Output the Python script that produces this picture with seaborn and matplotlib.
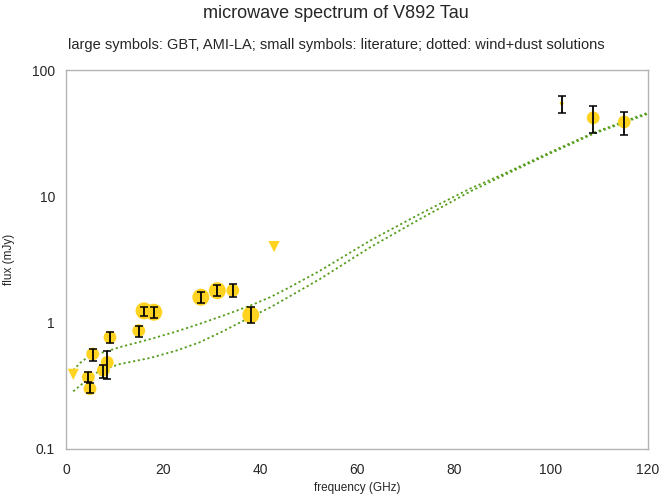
import numpy as np
import pandas as pd
import matplotlib
matplotlib.use("Agg")
import matplotlib.pyplot as plt
import seaborn as sns

# measured points: frequency (GHz), flux (mJy), error bar low/high
freq = [4.6, 4.95, 5.5, 7.7, 8.5, 9.07, 15.0, 16.1, 18.1, 27.8, 31.2, 34.4, 38.1, 102.2, 108.7, 115.1]
flux = [0.37, 0.30, 0.565, 0.42, 0.485, 0.765, 0.865, 1.24, 1.21, 1.59, 1.79, 1.80, 1.15, 54.5, 41.8, 38.8]
flux_lo = [0.337, 0.275, 0.50, 0.367, 0.36, 0.69, 0.775, 1.12, 1.09, 1.42, 1.62, 1.61, 0.995, 46.0, 31.8, 30.8]
flux_hi = [0.404, 0.331, 0.623, 0.465, 0.60, 0.838, 0.947, 1.34, 1.34, 1.74, 1.99, 2.03, 1.32, 62.6, 51.6, 46.2]
symbol = ["medium"] * 7 + ["large"] * 4 + ["medium", "large", "small", "medium", "medium"]

# upper limits
lim_freq = [1.5, 42.9]
lim_flux = [0.39, 4.0]

# wind+dust model curves
model1_freq = [1.5, 2.9, 4.1, 6.9, 11.1, 17.3, 22.7, 27.6, 32.5, 37.9, 42.1, 45.8, 52.4, 62.7, 73.0, 83.3, 89.5, 100.0, 108.7, 120.0]
model1_flux = [0.42, 0.48, 0.52, 0.57, 0.64, 0.74, 0.85, 0.98, 1.14, 1.36, 1.59, 1.88, 2.58, 4.46, 7.26, 11.5, 14.6, 22.5, 31.8, 46.0]
model2_freq = [1.5, 4.1, 6.9, 11.1, 17.3, 22.7, 27.6, 32.5, 37.9, 42.1, 45.8, 52.4, 62.7, 73.0, 83.3, 89.5, 100.0, 108.7, 120.0]
model2_flux = [0.286, 0.347, 0.417, 0.47, 0.525, 0.60, 0.70, 0.86, 1.10, 1.32, 1.59, 2.22, 3.95, 6.62, 10.9, 14.2, 22.0, 31.2, 45.0]

yellow = "#ffd320"
green = "#579d1c"
grey = "#b3b3b3"

sns.set_style("white")
plt.rcParams["font.family"] = ["Liberation Sans", "DejaVu Sans"]

df = pd.DataFrame({"freq": freq, "flux": flux, "lo": flux_lo, "hi": flux_hi, "symbol": symbol})

fig = plt.figure(figsize=(6.72, 4.99), dpi=100)
ax = fig.add_axes([66 / 672, 1 - 449 / 499, (648 - 66) / 672, (449 - 70) / 499])

sns.lineplot(x=model1_freq, y=model1_flux, ax=ax, color=green, linestyle=(0, (1.2, 1.5)), linewidth=1.3)
sns.lineplot(x=model2_freq, y=model2_flux, ax=ax, color=green, linestyle=(0, (1.2, 1.5)), linewidth=1.3)

sns.scatterplot(data=df, x="freq", y="flux", size="symbol",
                sizes={"large": 150, "medium": 85, "small": 8},
                color=yellow, edgecolor="none", legend=False, ax=ax, zorder=3)
sns.scatterplot(x=lim_freq, y=lim_flux, marker="v", s=65, color=yellow,
                edgecolor="none", ax=ax, zorder=3)

yerr = [df["flux"] - df["lo"], df["hi"] - df["flux"]]
ax.errorbar(df["freq"], df["flux"], yerr=yerr, fmt="none", ecolor="black",
            elinewidth=1.3, capsize=3, capthick=1.1, zorder=4)

ax.set_yscale("log")
ax.set_xlim(0, 120)
ax.set_ylim(0.1, 100)
ax.set_xticks(range(0, 121, 20))
ax.set_yticks([0.1, 1, 10, 100])
ax.set_yticklabels(["0.1", "1", "10", "100"])
ax.yaxis.set_minor_locator(matplotlib.ticker.NullLocator())
ax.tick_params(axis="both", which="major", length=5, color=grey, labelsize=10, direction="out")
ax.tick_params(axis="x", pad=5)
ax.tick_params(axis="y", pad=3)
for sp in ax.spines.values():
    sp.set_color(grey)
    sp.set_linewidth(1.0)

ax.set_xlabel("frequency (GHz)", fontsize=8.5, labelpad=4)
ax.set_ylabel("flux (mJy)", fontsize=8.5, labelpad=12)

fig.text(0.5, 1 - 14 / 499, "microwave spectrum of V892 Tau", ha="center", va="center", fontsize=13)
fig.text(0.5, 1 - 45 / 499, "large symbols: GBT, AMI-LA; small symbols: literature; dotted: wind+dust solutions",
         ha="center", va="center", fontsize=10.5)

fig.savefig("out.png", dpi=100)
